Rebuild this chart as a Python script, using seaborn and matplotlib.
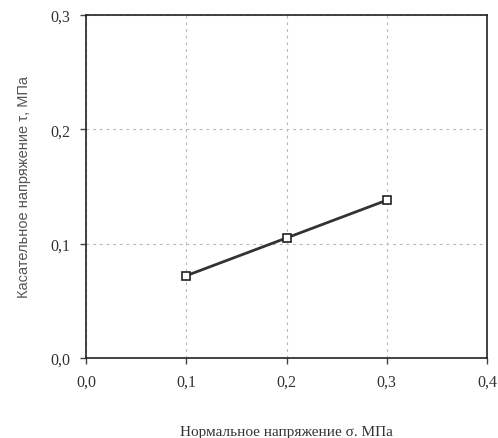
import matplotlib
matplotlib.use("Agg")
import matplotlib.pyplot as plt
import seaborn as sns
from matplotlib.ticker import FuncFormatter

# данные
sigma = [0.1, 0.2, 0.3]
tau = [0.072, 0.105, 0.138]
x_ticks = [0.0, 0.1, 0.2, 0.3, 0.4]
y_ticks = [0.0, 0.1, 0.2, 0.3]

sns.set_style("white")

fig = plt.figure(figsize=(4.98, 4.39), dpi=100)
ax = fig.add_axes([0.1727, 0.1822, 0.8053, 0.7814])

sns.lineplot(x=sigma, y=tau, ax=ax, color="#333333", linewidth=2.0,
             marker="s", markersize=6, markerfacecolor="white",
             markeredgecolor="#222222", markeredgewidth=1.2)

ax.set_xlim(0, 0.4)
ax.set_ylim(0, 0.3)
ax.set_xticks(x_ticks)
ax.set_yticks(y_ticks)
fmt = FuncFormatter(lambda v, p: f"{v:.1f}".replace(".", ","))
ax.xaxis.set_major_formatter(fmt)
ax.yaxis.set_major_formatter(fmt)

ax.grid(True, linestyle=(0, (2.5, 3.5)), color="#b8b8b8", linewidth=0.8)
for s in ax.spines.values():
    s.set_color("#222222")
    s.set_linewidth(1.2)
    s.set_visible(True)

ax.tick_params(axis="both", direction="out", length=4, width=1, color="#444444",
               bottom=True, left=True, labelsize=11.5, labelcolor="#333333", pad=7)
for lab in ax.get_xticklabels() + ax.get_yticklabels():
    lab.set_family("Liberation Serif")

ax.set_xlabel("Нормальное напряжение σ. МПа", family="Liberation Serif",
              fontsize=11, color="#333333", labelpad=26)
ax.set_ylabel("Касательное напряжение τ, МПа", family="Liberation Sans",
              fontsize=10.5, color="#555555", labelpad=14)

fig.savefig("out.png", dpi=100)
